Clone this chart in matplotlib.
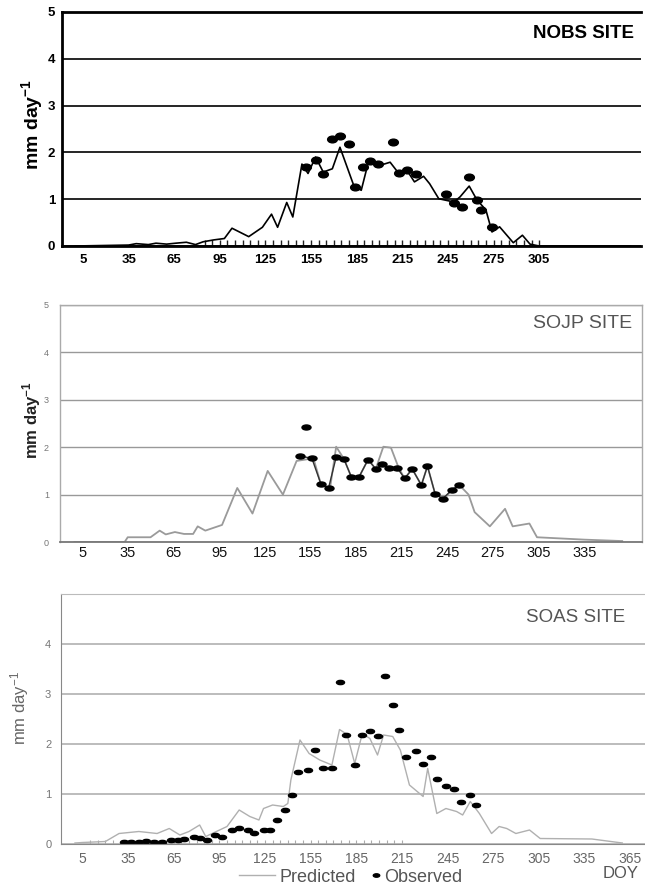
import matplotlib
matplotlib.use('Agg')
import matplotlib.pyplot as plt
from matplotlib.path import Path
from matplotlib.transforms import Affine2D

plt.rcParams['mathtext.default'] = 'regular'
narrow = ['Liberation Sans Narrow', 'Liberation Sans', 'DejaVu Sans']
arial = ['Liberation Sans', 'DejaVu Sans']

# ---- data (DOY, mm/day) ----
tick_doy = [5, 35, 65, 95, 125, 155, 185, 215, 245, 275, 305, 335, 365]

nobs_pred_doy = [0, 35, 40, 48, 53, 60, 66, 73, 79, 84, 91, 98, 103, 114, 123, 129, 133, 139, 143, 149,
                 153, 158, 163, 169, 174, 183, 188, 193, 200, 207, 212, 218, 223, 229, 233, 239, 249, 253,
                 259, 264, 270, 274, 279, 288, 294, 299, 305, 365]
nobs_pred = [0.0, 0.02, 0.05, 0.03, 0.06, 0.04, 0.06, 0.08, 0.03, 0.09, 0.13, 0.16, 0.38, 0.20, 0.40, 0.68,
             0.40, 0.93, 0.62, 1.75, 1.55, 1.90, 1.58, 1.65, 2.11, 1.30, 1.19, 1.83, 1.72, 1.79, 1.58, 1.62,
             1.37, 1.49, 1.33, 1.01, 0.94, 1.05, 1.28, 0.99, 0.77, 0.30, 0.41, 0.07, 0.23, 0.04, 0.0, 0.0]
nobs_obs_doy = [152, 158, 163, 169, 174, 180, 184, 189, 194, 199, 209, 213, 218, 224, 244, 249, 254, 259,
                264, 267, 274]
nobs_obs = [1.69, 1.84, 1.53, 2.29, 2.36, 2.18, 1.26, 1.69, 1.81, 1.76, 2.22, 1.56, 1.62, 1.53, 1.12, 0.92,
            0.84, 1.47, 0.98, 0.77, 0.40]

sojp_pred_doy = [0, 33, 35, 50, 56, 60, 66, 72, 78, 81, 86, 97, 107, 117, 127, 137, 146, 152, 157, 162,
                 168, 172, 177, 182, 187, 193, 198, 203, 208, 213, 217, 222, 228, 232, 237, 243, 248, 253,
                 259, 263, 273, 283, 288, 299, 304, 335, 360]
sojp_pred = [0.0, 0.0, 0.10, 0.10, 0.24, 0.16, 0.21, 0.17, 0.17, 0.33, 0.24, 0.36, 1.14, 0.60, 1.50, 1.00,
             1.71, 1.74, 1.77, 1.22, 1.14, 2.01, 1.76, 1.37, 1.37, 1.74, 1.54, 2.01, 1.99, 1.57, 1.34, 1.54,
             1.20, 1.60, 1.02, 0.91, 1.10, 1.20, 1.00, 0.63, 0.33, 0.70, 0.33, 0.39, 0.10, 0.05, 0.02]
sojp_obs_doy = [148, 156, 162, 167, 172, 177, 182, 187, 193, 198, 202, 207, 212, 217, 222, 228, 232, 237,
                242, 248, 253]
sojp_obs = [1.81, 1.77, 1.22, 1.14, 1.79, 1.76, 1.37, 1.37, 1.74, 1.54, 1.64, 1.57, 1.57, 1.34, 1.54, 1.20,
            1.60, 1.02, 0.91, 1.10, 1.20]
sojp_out_doy = [152]
sojp_out = [2.43]

soas_pred_doy = [0, 5, 20, 29, 42, 54, 62, 69, 75, 82, 86, 93, 100, 108, 115, 121, 124, 130, 137, 140,
                 142, 148, 154, 161, 169, 174, 179, 184, 189, 194, 199, 203, 209, 214, 220, 229, 232, 238,
                 244, 251, 255, 260, 266, 274, 279, 284, 290, 299, 306, 340, 360]
soas_pred = [0.02, 0.03, 0.05, 0.21, 0.25, 0.21, 0.31, 0.18, 0.25, 0.38, 0.15, 0.25, 0.35, 0.68, 0.55, 0.48,
             0.71, 0.78, 0.75, 0.81, 1.28, 2.08, 1.81, 1.68, 1.58, 2.29, 2.19, 1.61, 2.21, 2.11, 1.78, 2.18,
             2.15, 1.88, 1.18, 0.95, 1.51, 0.61, 0.71, 0.65, 0.58, 0.85, 0.61, 0.21, 0.35, 0.31, 0.21, 0.28,
             0.11, 0.10, 0.02]
soas_obs_doy = [32, 37, 42, 47, 52, 57, 63, 68, 72, 78, 82, 87, 92, 97, 103, 108, 114, 118, 124, 128, 133,
                138, 143, 147, 153, 158, 163, 169, 174, 178, 184, 189, 194, 199, 204, 209, 213, 218, 224,
                229, 234, 238, 244, 249, 254, 260, 264]
soas_obs = [0.05, 0.05, 0.05, 0.06, 0.05, 0.05, 0.09, 0.08, 0.10, 0.15, 0.13, 0.08, 0.19, 0.15, 0.29, 0.33,
            0.29, 0.23, 0.29, 0.29, 0.49, 0.69, 0.98, 1.45, 1.48, 1.89, 1.53, 1.53, 3.25, 2.19, 1.58, 2.18,
            2.26, 2.17, 3.37, 2.79, 2.28, 1.75, 1.87, 1.60, 1.75, 1.31, 1.16, 1.11, 0.85, 0.98, 0.78]

W, H = 645, 885
fig = plt.figure(figsize=(W / 100, H / 100), dpi=100)
fig.patch.set_facecolor('white')


def px_axes(left, top, right, bottom):
    return fig.add_axes([left / W, 1 - bottom / H, (right - left) / W, (bottom - top) / H])


def ellipse(sx):
    return Path.unit_circle().transformed(Affine2D().scale(sx, 1.0))


# ---------------- NOBS ----------------
ax1 = px_axes(62, 12, 641, 246)
ax1.set_xlim(-8.8, 372)
ax1.set_ylim(0, 5)
ax1.set_yticks(range(6))
ax1.set_xticks(tick_doy[:11])
ax1.set_xticklabels([str(t) for t in tick_doy[:11]], family=arial, fontweight='bold', fontsize=9.5)
ax1.set_yticklabels([str(v) for v in range(6)], family=arial, fontweight='bold', fontsize=9.5)
ax1.yaxis.grid(True, color='black', lw=1.2)
ax1.set_axisbelow(True)
for s in ['left', 'bottom', 'top']:
    ax1.spines[s].set_linewidth(2)
    ax1.spines[s].set_color('black')
ax1.spines['right'].set_visible(False)
ax1.tick_params(axis='both', which='major', length=0)
ax1.tick_params(axis='x', pad=6)
ax1.tick_params(axis='y', pad=5)
ax1.xaxis.remove_overlapping_locs = False
ax1.set_xticks(range(85, 306, 5), minor=True)
ax1.tick_params(axis='x', which='minor', direction='in', length=4, width=1, color='#222')
ax1.plot(nobs_pred_doy, nobs_pred, color='black', lw=1.2)
ax1.plot(nobs_obs_doy, nobs_obs, ls='none', marker=ellipse(1.45), ms=7, color='black')
ax1.text(0.988, 0.91, 'NOBS SITE', transform=ax1.transAxes, ha='right', va='center',
         family=arial, fontweight='bold', fontsize=13.5)
ax1.set_ylabel('mm day$^{-1}$', family=arial, fontweight='bold', fontsize=14)
ax1.yaxis.set_label_coords(-0.029, 0.52)

# ---------------- SOJP ----------------
ax2 = px_axes(60, 305, 642, 542)
ax2.set_xlim(-9.5, 373)
ax2.set_ylim(0, 5)
ax2.set_yticks(range(6))
ax2.set_xticks(tick_doy[:12])
ax2.set_xticklabels([str(t) for t in tick_doy[:12]], family=narrow, fontsize=10.5, color='#111')
ax2.set_yticklabels([str(v) for v in range(6)], family=arial, fontsize=6.5, color='#777')
ax2.yaxis.grid(True, color='#999', lw=1.0)
ax2.set_axisbelow(True)
for s in ['left', 'top', 'right']:
    ax2.spines[s].set_color('#aaa')
    ax2.spines[s].set_linewidth(1)
ax2.spines['bottom'].set_color('#777')
ax2.spines['bottom'].set_linewidth(1.3)
ax2.tick_params(axis='both', which='major', length=0)
ax2.tick_params(axis='x', pad=3)
ax2.tick_params(axis='y', pad=8)
ax2.plot(sojp_pred_doy, sojp_pred, color='#9a9a9a', lw=1.3)
ax2.plot(sojp_obs_doy, sojp_obs, color='#333', lw=1.0, marker=ellipse(1.8), ms=6.5, mfc='black', mec='black')
ax2.plot(sojp_out_doy, sojp_out, ls='none', marker=ellipse(1.8), ms=6.5, color='black')
ax2.text(0.983, 0.924, 'SOJP SITE', transform=ax2.transAxes, ha='right', va='center',
         family=arial, fontsize=14, color='#555')
ax2.set_ylabel('mm day$^{-1}$', family=arial, fontweight='bold', fontsize=12, color='#222')
ax2.yaxis.set_label_coords(-0.029, 0.515)

# ---------------- SOAS ----------------
ax3 = px_axes(61, 594, 646, 844)
ax3.set_xlim(-9.2, 375.6)
ax3.set_ylim(0, 5)
ax3.set_yticks(range(5))
ax3.set_xticks(tick_doy)
ax3.set_xticklabels([str(t) for t in tick_doy], family=narrow, fontsize=10, color='#666')
ax3.set_yticklabels([str(v) for v in range(5)], family=arial, fontsize=8, color='#777')
ax3.yaxis.grid(True, color='#aaa', lw=1.1)
ax3.set_axisbelow(True)
ax3.spines['left'].set_color('#888')
ax3.spines['top'].set_color('#bbb')
ax3.spines['bottom'].set_color('#888')
ax3.spines['right'].set_visible(False)
ax3.tick_params(axis='both', which='major', length=0)
ax3.tick_params(axis='x', pad=6)
ax3.tick_params(axis='y', pad=7)
ax3.xaxis.remove_overlapping_locs = False
ax3.set_xticks(range(10, 216, 5), minor=True)
ax3.tick_params(axis='x', which='minor', direction='in', length=3, width=0.8, color='#aaa')
ax3.plot(soas_pred_doy, soas_pred, color='#b0b0b0', lw=1.0, label='Predicted')
ax3.plot(soas_obs_doy, soas_obs, ls='none', marker=ellipse(1.9), ms=5.8, color='black', label='Observed')
ax3.text(0.964, 0.908, 'SOAS SITE', transform=ax3.transAxes, ha='right', va='center',
         family=arial, fontsize=13.5, color='#555')
ax3.set_ylabel('mm day$^{-1}$', family=arial, fontsize=12, color='#666')
ax3.yaxis.set_label_coords(-0.051, 0.544)

h_pred, h_obs = ax3.get_lines()[0], ax3.get_lines()[1]
leg_kw = dict(frameon=False, borderpad=0, handletextpad=0.25, loc='center left',
              prop={'family': narrow, 'size': 13})
lg1 = fig.legend([h_pred], ['Predicted'], bbox_to_anchor=(230 / W, 1 - 877 / H), handlelength=2.0, **leg_kw)
lg2 = fig.legend([h_obs], ['Observed'], bbox_to_anchor=(362 / W, 1 - 877 / H), handlelength=0.5,
                 markerscale=0.8, **leg_kw)
for lg in (lg1, lg2):
    for t in lg.get_texts():
        t.set_color('#555')
fig.text(603 / W, 1 - 874 / H, 'DOY', ha='left', va='center', family=narrow, fontsize=12, color='#555')

fig.savefig('out.png', dpi=100, facecolor='white')
